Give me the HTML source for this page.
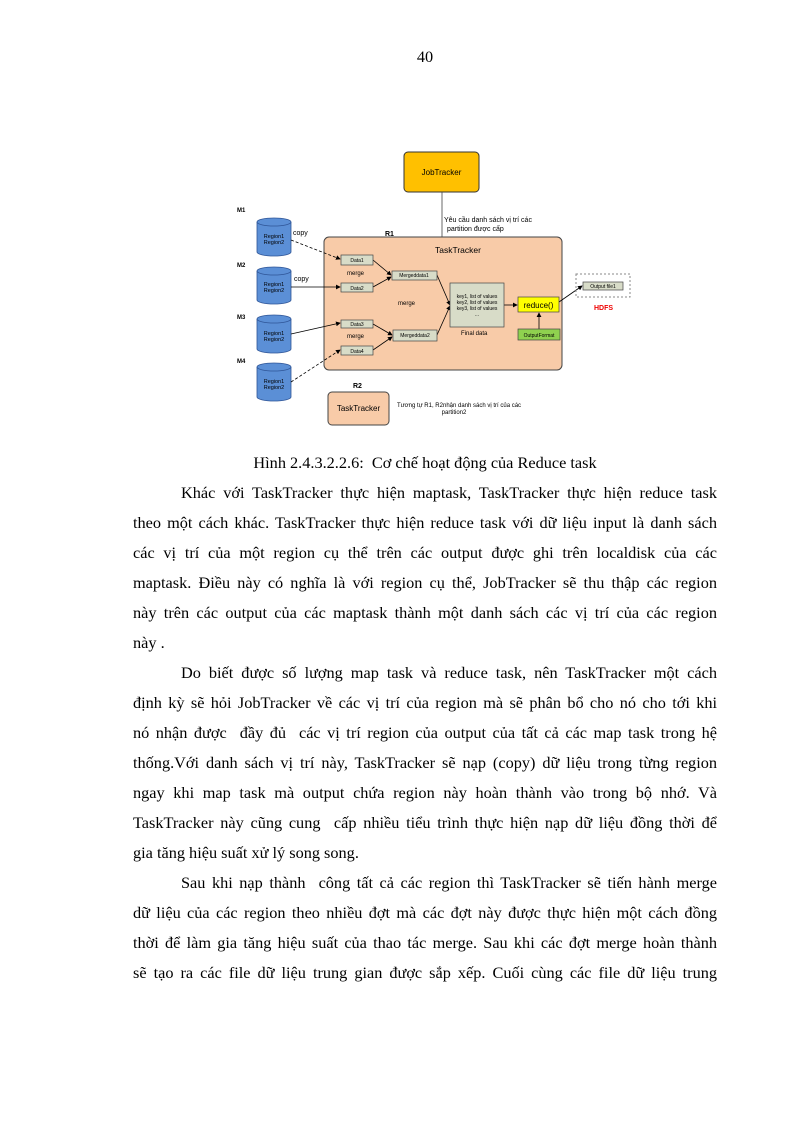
<!DOCTYPE html>
<html><head><meta charset="utf-8"><style>
body{margin:0;background:#fff;}
.pg{position:relative;width:794px;height:1123px;overflow:hidden;font-family:"Liberation Serif",serif;color:#000;}
.l{position:absolute;left:133px;width:584px;font-size:16.3px;line-height:30px;height:30px;white-space:nowrap;}
.j{text-align:justify;text-align-last:justify;}
.ind{padding-left:48px;box-sizing:border-box;}
.s{font-family:"Liberation Sans",sans-serif;position:absolute;white-space:nowrap;}
</style></head><body><div class="pg">
<div class="l" style="top:42px;text-align:center;left:0;width:850px">40</div>

<svg width="794" height="440" style="position:absolute;left:0;top:0" font-family="Liberation Sans, sans-serif">
<defs><marker id="a" markerWidth="6" markerHeight="6" refX="5" refY="3" orient="auto"><path d="M0,0 L6,3 L0,6z" fill="#000"/></marker></defs>
<rect x="404" y="152" width="75" height="40" rx="4" fill="#ffc000" stroke="#333"/>
<text x="441.5" y="175" font-size="8" text-anchor="middle">JobTracker</text>
<line x1="442" y1="192" x2="442" y2="238" stroke="#444" stroke-width="0.8"/>
<text x="444" y="222" font-size="7">Yêu cầu danh sách vị trí các</text>
<text x="447" y="231" font-size="7">partition được cấp</text>
<rect x="324" y="237" width="238" height="133" rx="5" fill="#f8cba8" stroke="#444"/>
<text x="385" y="236" font-size="7" font-weight="bold">R1</text>
<text x="435" y="253" font-size="8.5">TaskTracker</text>
<g font-size="6" font-weight="bold"><text x="237" y="212">M1</text><text x="237" y="267">M2</text><text x="237" y="319">M3</text><text x="237" y="363">M4</text></g>
<g fill="#5b8fd6" stroke="#2f5597" stroke-width="0.8">
<path d="M257,222 v30 a17,4 0 0 0 34,0 v-30"/><ellipse cx="274" cy="222" rx="17" ry="4"/>
<path d="M257,271 v29 a17,4 0 0 0 34,0 v-29"/><ellipse cx="274" cy="271" rx="17" ry="4"/>
<path d="M257,319 v30 a17,4 0 0 0 34,0 v-30"/><ellipse cx="274" cy="319" rx="17" ry="4"/>
<path d="M257,367 v30 a17,4 0 0 0 34,0 v-30"/><ellipse cx="274" cy="367" rx="17" ry="4"/>
</g>
<g font-size="5.5" text-anchor="middle"><text x="274" y="238">Region1</text><text x="274" y="244">Region2</text>
<text x="274" y="286">Region1</text><text x="274" y="292">Region2</text>
<text x="274" y="335">Region1</text><text x="274" y="341">Region2</text>
<text x="274" y="383">Region1</text><text x="274" y="389">Region2</text></g>
<text x="293" y="235" font-size="7">copy</text><text x="294" y="281" font-size="7">copy</text>
<g stroke="#000" stroke-width="0.8" fill="none">
<line x1="291" y1="240" x2="340" y2="259" stroke-dasharray="3,2" marker-end="url(#a)"/>
<line x1="291" y1="287" x2="340" y2="287" marker-end="url(#a)"/>
<line x1="291" y1="334" x2="340" y2="323" marker-end="url(#a)"/>
<line x1="291" y1="382" x2="340" y2="350" stroke-dasharray="3,2" marker-end="url(#a)"/>
<line x1="373" y1="260" x2="391" y2="275" marker-end="url(#a)"/>
<line x1="373" y1="287" x2="391" y2="277" marker-end="url(#a)"/>
<line x1="373" y1="324" x2="392" y2="335" marker-end="url(#a)"/>
<line x1="373" y1="350" x2="392" y2="337" marker-end="url(#a)"/>
<line x1="437" y1="275" x2="450" y2="305" marker-end="url(#a)"/>
<line x1="437" y1="335" x2="450" y2="306" marker-end="url(#a)"/>
<line x1="504" y1="305" x2="517" y2="305" marker-end="url(#a)"/>
<line x1="539" y1="329" x2="539" y2="313" marker-end="url(#a)"/>
<line x1="559" y1="302" x2="582" y2="286" marker-end="url(#a)"/>
</g>
<g fill="#d8dcc8" stroke="#444" stroke-width="0.7">
<rect x="341" y="255" width="32" height="10"/><rect x="341" y="283" width="32" height="9"/>
<rect x="341" y="320" width="32" height="8"/><rect x="341" y="346" width="32" height="9"/>
<rect x="392" y="271" width="45" height="9"/><rect x="393" y="330" width="44" height="11"/>
<rect x="450" y="283" width="54" height="44"/>
<rect x="583" y="282" width="40" height="8"/>
</g>
<g font-size="5" text-anchor="middle"><text x="357" y="262">Data1</text><text x="357" y="290">Data2</text><text x="357" y="326">Data3</text><text x="357" y="353">Data4</text>
<text x="414" y="277">Mergeddata1</text><text x="415" y="337">Mergeddata2</text><text x="603" y="288">Output file1</text>
<text x="477" y="298">key1, list of values</text><text x="477" y="304">key2, list of values</text><text x="477" y="310">key3, list of values</text><text x="477" y="316">...</text></g>
<g font-size="6"><text x="347" y="275">merge</text><text x="398" y="305">merge</text><text x="347" y="338">merge</text><text x="461" y="335">Final data</text></g>
<rect x="518" y="297" width="41" height="15" fill="#ffff00" stroke="#444" stroke-width="0.7"/>
<text x="538.5" y="308" font-size="8" text-anchor="middle">reduce()</text>
<rect x="518" y="329" width="42" height="11" fill="#8fd14f" stroke="#444" stroke-width="0.7"/>
<text x="539" y="337" font-size="5" text-anchor="middle">OutputFormat</text>
<rect x="576" y="274" width="54" height="23" fill="none" stroke="#888" stroke-dasharray="2,2"/>
<text x="594" y="310" font-size="7" font-weight="bold" fill="#e00">HDFS</text>
<text x="353" y="388" font-size="7" font-weight="bold">R2</text>
<rect x="328" y="392" width="61" height="33" rx="4" fill="#f8cba8" stroke="#444"/>
<text x="358.5" y="411" font-size="8" text-anchor="middle">TaskTracker</text>
<text x="397" y="407" font-size="6">Tương tự R1, R2nhận danh sách vị trí của các</text>
<text x="454" y="414" font-size="6" text-anchor="middle">partition2</text>
</svg>

<div class="l" style="top:448px;text-align:center">Hình 2.4.3.2.2.6:&nbsp; Cơ chế hoạt động của Reduce task</div>
<div class="l j ind" style="top:478px">Khác với TaskTracker thực hiện maptask, TaskTracker thực hiện reduce task</div>
<div class="l j" style="top:508px">theo một cách khác. TaskTracker thực hiện reduce task với dữ liệu input là danh sách</div>
<div class="l j" style="top:538px">các vị trí của một region cụ thể trên các output được ghi trên localdisk của các</div>
<div class="l j" style="top:568px">maptask. Điều này có nghĩa là với region cụ thể, JobTracker sẽ thu thập các region</div>
<div class="l j" style="top:598px">này trên các output của các maptask thành một danh sách các vị trí của các region</div>
<div class="l" style="top:628px">này .</div>
<div class="l j ind" style="top:658px">Do biết được số lượng map task và reduce task, nên TaskTracker một cách</div>
<div class="l j" style="top:688px">định kỳ sẽ hỏi JobTracker về các vị trí của region mà sẽ phân bổ cho nó cho tới khi</div>
<div class="l j" style="top:718px">nó nhận được&nbsp; đầy đủ&nbsp; các vị trí region của output của tất cả các map task trong hệ</div>
<div class="l j" style="top:748px">thống.Với danh sách vị trí này, TaskTracker sẽ nạp (copy) dữ liệu trong từng region</div>
<div class="l j" style="top:778px">ngay khi map task mà output chứa region này hoàn thành vào trong bộ nhớ. Và</div>
<div class="l j" style="top:808px">TaskTracker này cũng cung&nbsp; cấp nhiều tiểu trình thực hiện nạp dữ liệu đồng thời để</div>
<div class="l" style="top:838px">gia tăng hiệu suất xử lý song song.</div>
<div class="l j ind" style="top:868px">Sau khi nạp thành&nbsp; công tất cả các region thì TaskTracker sẽ tiến hành merge</div>
<div class="l j" style="top:898px">dữ liệu của các region theo nhiều đợt mà các đợt này được thực hiện một cách đồng</div>
<div class="l j" style="top:928px">thời để làm gia tăng hiệu suất của thao tác merge. Sau khi các đợt merge hoàn thành</div>
<div class="l j" style="top:958px">sẽ tạo ra các file dữ liệu trung gian được sắp xếp. Cuối cùng các file dữ liệu trung</div>
</div></body></html>
